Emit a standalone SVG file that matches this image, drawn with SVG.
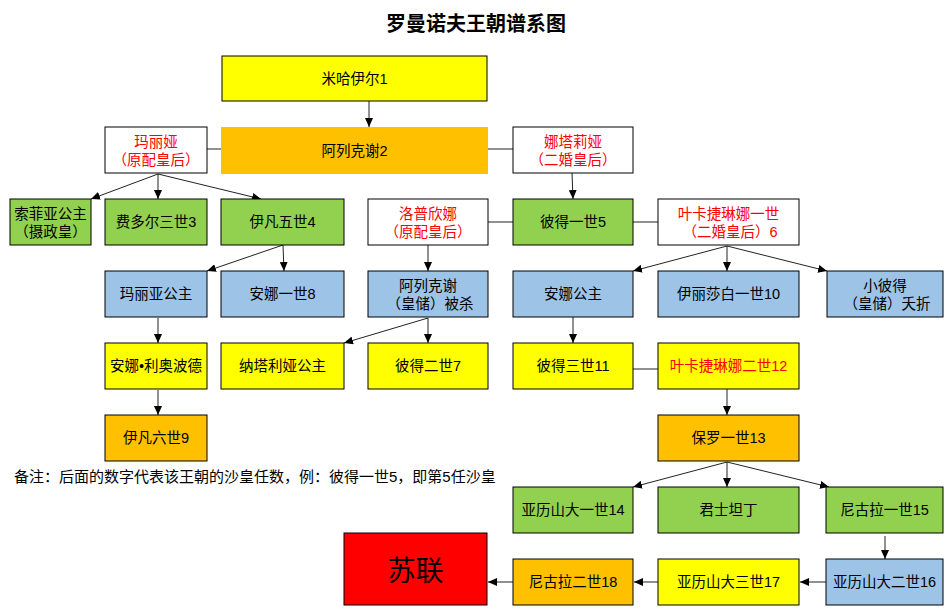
<svg xmlns="http://www.w3.org/2000/svg" width="948" height="609" viewBox="0 0 948 609">
<style>
text{font-family:"Liberation Sans","Noto Sans CJK SC",sans-serif;font-size:14.5px;fill:#000;text-anchor:middle;dominant-baseline:central}
.title{font-size:20px;font-weight:bold}
.note{font-size:15px;text-anchor:start}
.red{fill:#FF0000}
.big{font-size:28px}
rect{stroke:#000;stroke-width:1}
.y{fill:#FFFF00}.o{fill:#FFC000}.g{fill:#92D050}.b{fill:#9DC3E6}.w{fill:#FFFFFF}.r{fill:#FF0000}
.nb{stroke:none}
#connectors line{stroke:#222;stroke-width:1;fill:none}
#connectors .a{marker-end:url(#arr)}
</style>
<defs>
<marker id="arr" markerWidth="9" markerHeight="8" refX="9" refY="4" orient="auto" markerUnits="userSpaceOnUse">
<path d="M0,0 L9,4 L0,8 z" fill="#000"/>
</marker>
</defs>
<rect class="w nb" x="0" y="0" width="948" height="609"/>
<text class="title" x="476" y="24">罗曼诺夫王朝谱系图</text>
<g id="connectors">
<line class="a" x1="369" y1="101" x2="369" y2="127"/>
<line x1="207" y1="149" x2="221" y2="149"/>
<line x1="488" y1="149" x2="513" y2="149"/>
<line class="a" x1="572" y1="173" x2="573" y2="199"/>
<line class="a" x1="158" y1="174" x2="91" y2="199"/>
<line class="a" x1="158" y1="174" x2="158" y2="199"/>
<line class="a" x1="158" y1="174" x2="261" y2="199"/>
<line x1="488" y1="222" x2="513" y2="222"/>
<line x1="633" y1="222" x2="658" y2="222"/>
<line class="a" x1="283" y1="245" x2="207" y2="271"/>
<line class="a" x1="283" y1="245" x2="284" y2="271"/>
<line class="a" x1="428" y1="245" x2="428" y2="271"/>
<line class="a" x1="727" y1="246" x2="633" y2="271"/>
<line class="a" x1="727" y1="246" x2="727" y2="271"/>
<line class="a" x1="727" y1="246" x2="827" y2="271"/>
<line class="a" x1="158" y1="318" x2="158" y2="343"/>
<line class="a" x1="428" y1="318" x2="344" y2="343"/>
<line class="a" x1="428" y1="318" x2="428" y2="343"/>
<line class="a" x1="573" y1="317" x2="573" y2="343"/>
<line x1="633" y1="369" x2="658" y2="369"/>
<line class="a" x1="158" y1="390" x2="158" y2="415"/>
<line class="a" x1="727" y1="389" x2="727" y2="415"/>
<line class="a" x1="727" y1="462" x2="633" y2="487"/>
<line class="a" x1="727" y1="462" x2="727" y2="487"/>
<line class="a" x1="727" y1="462" x2="829" y2="487"/>
<line class="a" x1="885" y1="536" x2="885" y2="559"/>
<line class="a" x1="826" y1="582" x2="800" y2="582"/>
<line class="a" x1="658" y1="582" x2="634" y2="582"/>
<line class="a" x1="513" y1="582" x2="488" y2="582"/>
</g>
<g id="n1"><rect class="y" x="222" y="56" width="265" height="45"/><text x="354.5" y="78.5">米哈伊尔1</text></g>
<g id="n2"><rect class="o nb" x="221" y="127" width="267" height="47"/><text x="354.5" y="150.5">阿列克谢2</text></g>
<g id="maria"><rect class="w" x="105" y="127" width="102" height="46"/><text class="red" x="156" y="142">玛丽娅</text><text class="red" x="156" y="160">（原配皇后）</text></g>
<g id="natalia"><rect class="w" x="513" y="127" width="120" height="46"/><text class="red" x="573" y="142">娜塔莉娅</text><text class="red" x="573" y="160">（二婚皇后）</text></g>
<g id="sofia"><rect class="g" x="10" y="199" width="81" height="46"/><text x="50.5" y="214">索菲亚公主</text><text x="50.5" y="232">（摄政皇）</text></g>
<g id="fedor3"><rect class="g" x="105" y="199" width="102" height="46"/><text x="156" y="222">费多尔三世3</text></g>
<g id="ivan5"><rect class="g" x="221" y="199" width="123" height="46"/><text x="282.5" y="222">伊凡五世4</text></g>
<g id="lopukhina"><rect class="w" x="368" y="199" width="120" height="46"/><text class="red" x="428" y="214">洛普欣娜</text><text class="red" x="428" y="232">（原配皇后）</text></g>
<g id="peter1"><rect class="g" x="513" y="199" width="120" height="46"/><text x="573" y="222">彼得一世5</text></g>
<g id="cath1"><rect class="w" x="658" y="199" width="141" height="46"/><text class="red" x="728.5" y="214">叶卡捷琳娜一世</text><text class="red" x="730" y="232">（二婚皇后）6</text></g>
<g id="mariaP"><rect class="b" x="105" y="271" width="102" height="46"/><text x="156" y="294">玛丽亚公主</text></g>
<g id="anna8"><rect class="b" x="221" y="271" width="123" height="46"/><text x="282.5" y="294">安娜一世8</text></g>
<g id="alexei"><rect class="b" x="368" y="271" width="120" height="46"/><text x="428" y="286">阿列克谢</text><text x="430" y="304">（皇储）被杀</text></g>
<g id="annaP"><rect class="b" x="513" y="271" width="120" height="46"/><text x="573" y="294">安娜公主</text></g>
<g id="eliz10"><rect class="b" x="658" y="271" width="141" height="46"/><text x="728.5" y="294">伊丽莎白一世10</text></g>
<g id="peterS"><rect class="b" x="827" y="271" width="116" height="46"/><text x="885" y="286">小彼得</text><text x="887" y="304">（皇储）夭折</text></g>
<g id="annaL"><rect class="y" x="105" y="343" width="102" height="46"/><text x="156" y="366">安娜•利奥波德</text></g>
<g id="nataliaP"><rect class="y" x="221" y="343" width="123" height="46"/><text x="282.5" y="366">纳塔利娅公主</text></g>
<g id="peter2"><rect class="y" x="368" y="343" width="120" height="46"/><text x="428" y="366">彼得二世7</text></g>
<g id="peter3"><rect class="y" x="513" y="343" width="120" height="46"/><text x="573" y="366">彼得三世11</text></g>
<g id="cath2"><rect class="y" x="658" y="343" width="141" height="46"/><text class="red" x="728.5" y="366">叶卡捷琳娜二世12</text></g>
<g id="ivan6"><rect class="o" x="105" y="415" width="102" height="46"/><text x="156" y="438">伊凡六世9</text></g>
<g id="paul1"><rect class="o" x="658" y="415" width="141" height="46"/><text x="728.5" y="438">保罗一世13</text></g>
<g id="alex1"><rect class="g" x="513" y="487" width="120" height="46"/><text x="573" y="510">亚历山大一世14</text></g>
<g id="konst"><rect class="g" x="658" y="487" width="141" height="46"/><text x="728.5" y="510">君士坦丁</text></g>
<g id="nich1"><rect class="g" x="826" y="487" width="117" height="46"/><text x="884.5" y="510">尼古拉一世15</text></g>
<g id="nich2"><rect class="o" x="513" y="559" width="120" height="46"/><text x="573" y="582">尼古拉二世18</text></g>
<g id="alex3"><rect class="y" x="658" y="559" width="141" height="46"/><text x="728.5" y="582">亚历山大三世17</text></g>
<g id="alex2"><rect class="b" x="826" y="559" width="117" height="46"/><text x="884.5" y="582">亚历山大二世16</text></g>
<g id="ussr"><rect class="r" x="344" y="533" width="143" height="72"/><text class="big" x="415.5" y="571">苏联</text></g>
<text class="note" x="14" y="476">备注：后面的数字代表该王朝的沙皇任数，例：彼得一世5，即第5任沙皇</text>
</svg>
